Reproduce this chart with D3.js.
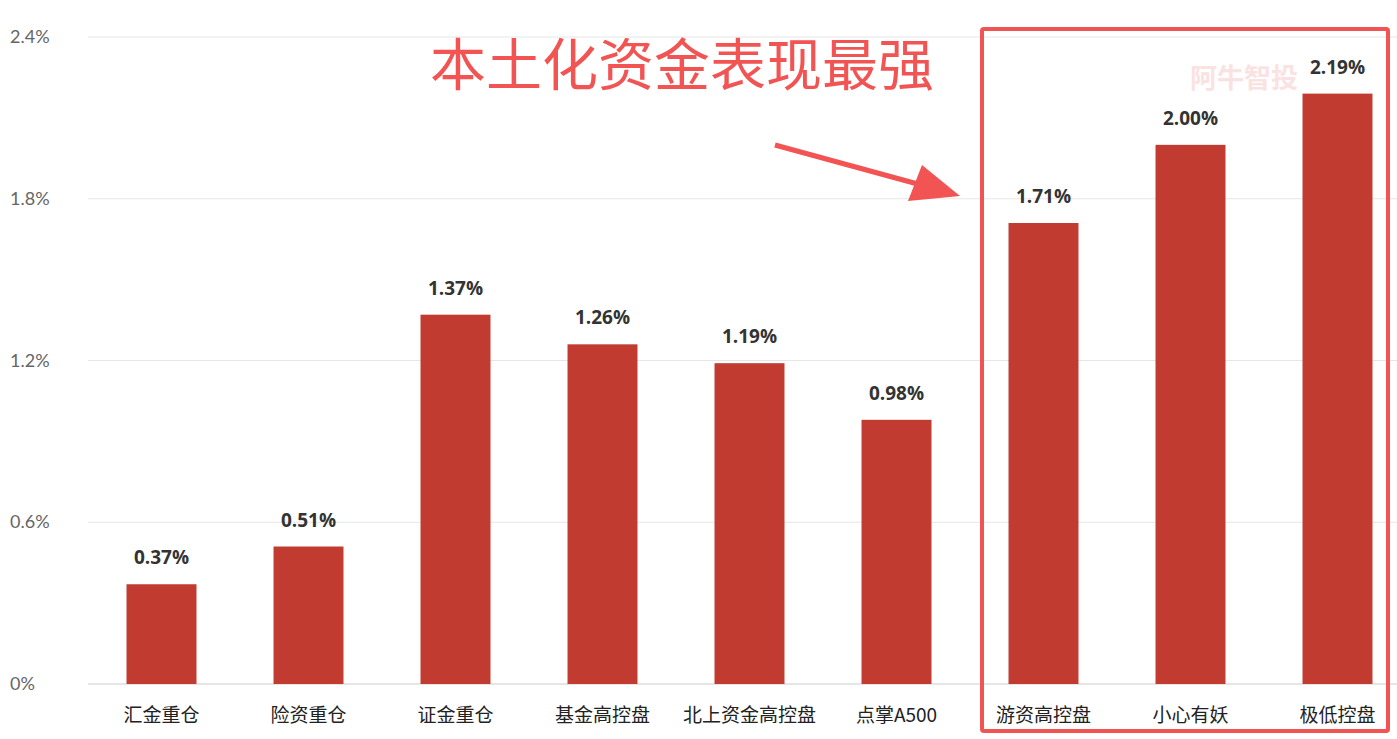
<!DOCTYPE html>
<html><head><meta charset="utf-8">
<script src="https://cdn.jsdelivr.net/npm/d3@7"></script>
<style>body{margin:0;background:#fff}svg{display:block}</style>
</head><body><svg id="c" width="1397" height="739"></svg>
<script>
const categories = ['汇金重仓', '险资重仓', '证金重仓', '基金高控盘', '北上资金高控盘', '点掌A500', '游资高控盘', '小心有妖', '极低控盘']
const values = [0.37, 0.51, 1.37, 1.26, 1.19, 0.98, 1.71, 2.00, 2.19]
const yTicks = [0, 0.6, 1.2, 1.8, 2.4]
const annotation = '本土化资金表现最强'

const svg = d3.select('#c')
const x = d3.scaleBand().domain(categories).range([88, 1411]).paddingInner(0.524).paddingOuter(0.262)
const y = d3.scaleLinear().domain([0, 2.4]).range([684, 37])

// grid
svg.selectAll('.grid').data(yTicks).join('line')
  .attr('x1', 88).attr('x2', 1397)
  .attr('y1', d => y(d)).attr('y2', d => y(d))
  .attr('stroke', d => d === 0 ? '#ccc' : '#e6e6e6').attr('stroke-width', 1)
svg.selectAll('.yl').data(yTicks).join('text')
  .attr('x', 10).attr('y', d => y(d) + 6)
  .attr('font-family', 'Lato, "Noto Sans", sans-serif').attr('font-size', 18).attr('fill', '#666')
  .text(d => d === 0 ? '0%' : d.toFixed(1) + '%')

// watermark
svg.append('text').attr('x', 1190).attr('y', 88)
  .attr('font-family', '"Noto Sans CJK SC"').attr('font-size', 27).attr('font-weight', 'bold')
  .attr('fill', '#fbe2e2').text('阿牛智投')

svg.selectAll('.bar').data(values).join('rect')
  .attr('x', (d, i) => x(categories[i])).attr('width', x.bandwidth())
  .attr('y', d => y(d)).attr('height', d => y(0) - y(d))
  .attr('fill', '#c23b31')
svg.selectAll('.vl').data(values).join('text')
  .attr('x', (d, i) => x(categories[i]) + x.bandwidth() / 2).attr('y', d => y(d) - 20)
  .attr('text-anchor', 'middle').attr('font-family', '"Open Sans", sans-serif')
  .attr('font-size', 19).attr('font-weight', 'bold').attr('fill', '#333')
  .text(d => d.toFixed(2) + '%')
svg.selectAll('.xl').data(categories).join('text')
  .attr('x', d => x(d) + x.bandwidth() / 2).attr('y', 722)
  .attr('text-anchor', 'middle').attr('font-family', '"Noto Sans CJK SC"')
  .attr('font-size', 19).attr('fill', '#222').text(d => d)

// highlight box + annotation
svg.append('rect').attr('x', 982).attr('y', 29).attr('width', 406).attr('height', 702)
  .attr('fill', 'none').attr('stroke', '#f25353').attr('stroke-width', 4).attr('rx', 2)
svg.append('text').attr('x', 430).attr('y', 85)
  .attr('font-family', '"Noto Sans CJK SC"').attr('font-size', 56).attr('fill', '#f25353')
  .text(annotation)
svg.append('line').attr('x1', 775).attr('y1', 145).attr('x2', 925).attr('y2', 186)
  .attr('stroke', '#f25353').attr('stroke-width', 5)
svg.append('path').attr('d', 'M960,196 L908,201 L922,165 Z').attr('fill', '#f25353')
</script></body></html>
